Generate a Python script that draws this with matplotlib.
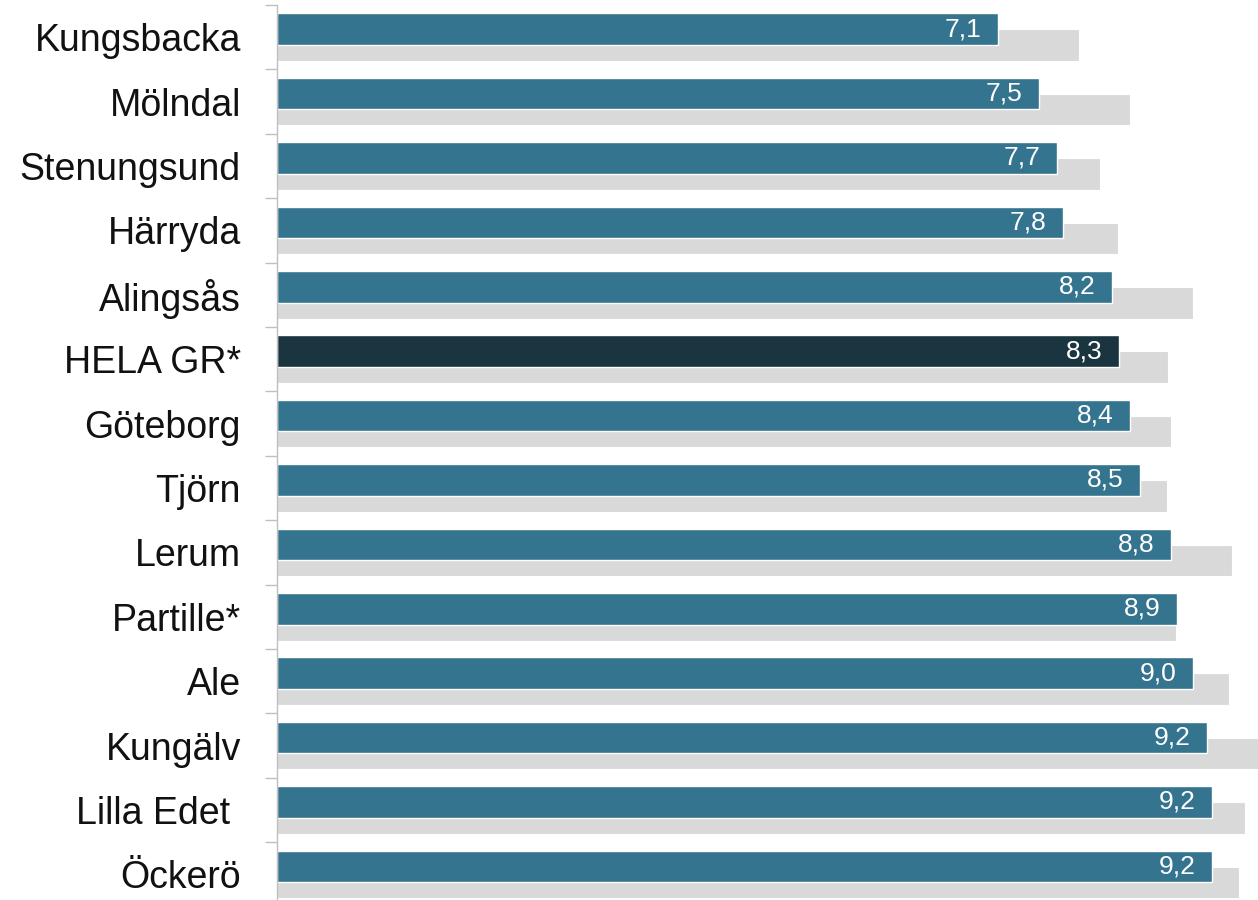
import matplotlib
matplotlib.use("Agg")
import matplotlib.pyplot as plt
import numpy as np

categories = ["Kungsbacka", "Mölndal", "Stenungsund", "Härryda", "Alingsås", "HELA GR*",
              "Göteborg", "Tjörn", "Lerum", "Partille*", "Ale", "Kungälv", "Lilla Edet ", "Öckerö"]
# bar lengths
current = [7.1, 7.5, 7.68, 7.74, 8.22, 8.29, 8.4, 8.5, 8.8, 8.86, 9.02, 9.16, 9.21, 9.21]
# printed value labels
current_labels = ["7,1", "7,5", "7,7", "7,8", "8,2", "8,3", "8,4", "8,5", "8,8", "8,9",
                  "9,0", "9,2", "9,2", "9,2"]
previous = [7.9, 8.4, 8.1, 8.28, 9.02, 8.77, 8.8, 8.76, 9.4, 8.85, 9.37, 9.8, 9.53, 9.47]
highlight = "HELA GR*"

blue = "#35748F"
dark = "#1A3540"
gray = "#D9D9D9"

fig = plt.figure(figsize=(12.58, 9.0), dpi=100)
top_px = 5
height_px = 14 * 64.4
ax = fig.add_axes([277/1258, (900 - top_px - height_px) / 900, 1 - 277/1258, height_px / 900])

y = np.arange(len(categories))
h = 0.49
off = 0.125
ax.barh(y + off, previous, height=h, color=gray, edgecolor="white", linewidth=0.8, zorder=1)
colors = [dark if c == highlight else blue for c in categories]
ax.barh(y - off, current, height=h, color=colors, edgecolor="white", linewidth=1.0, zorder=2)

for yi, v, lab in zip(y, current, current_labels):
    ax.text(v - 0.16, yi - off, lab, ha="right", va="center",
            color="white", fontsize=19, family="Liberation Sans", zorder=3)

ax.set_xlim(0, 9.66)
ax.set_ylim(len(categories) - 0.5, -0.5)
ax.set_xticks([])
ax.set_yticks(y)
ax.set_yticklabels(categories, fontsize=27, family="Liberation Sans", color="#111111")
ax.tick_params(axis="y", which="major", length=0, pad=26)
ax.set_yticks(np.arange(-0.5, len(categories), 1.0), minor=True)
ax.tick_params(axis="y", which="minor", length=9, color="#BFBFBF", width=1)
for s in ["top", "right", "bottom"]:
    ax.spines[s].set_visible(False)
ax.spines["left"].set_color("#BFBFBF")
ax.spines["left"].set_linewidth(1)

fig.savefig("out.png", dpi=100)
